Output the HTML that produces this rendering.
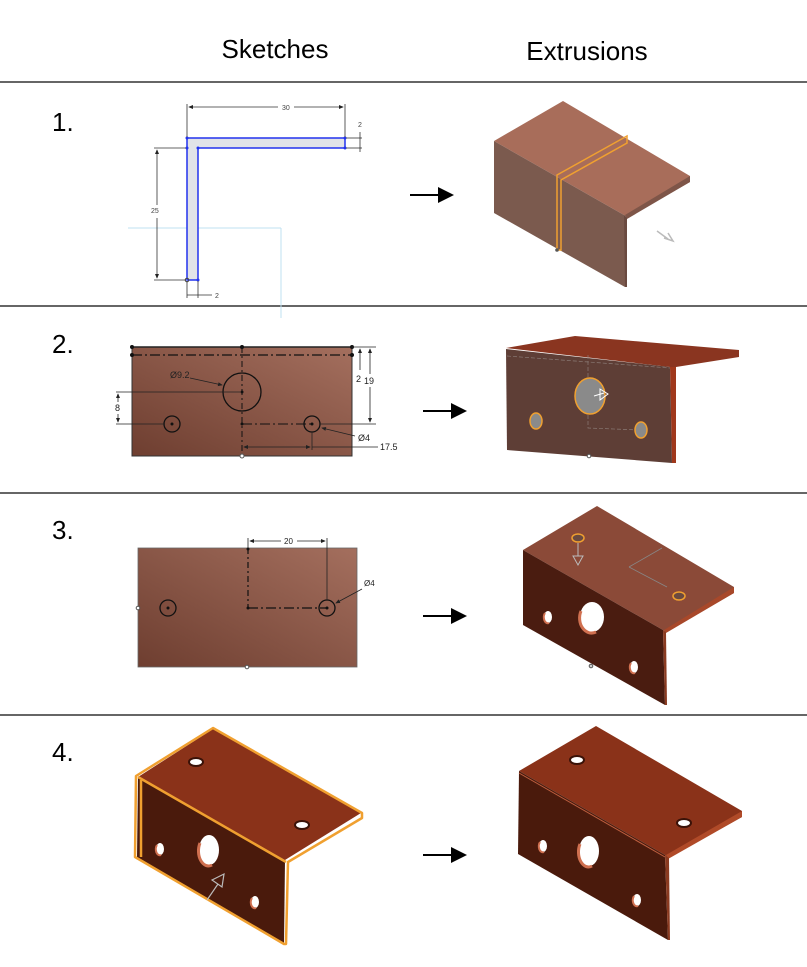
<!DOCTYPE html>
<html><head><meta charset="utf-8"><style>
html,body{margin:0;padding:0;background:#fff;}
svg{display:block;}
text{font-family:"Liberation Sans",Arial,sans-serif;}
</style></head><body>
<svg width="807" height="967" viewBox="0 0 807 967" xmlns="http://www.w3.org/2000/svg">
<defs>
<linearGradient id="g2" x1="0" y1="1" x2="1" y2="0"><stop offset="0" stop-color="#6e3e30"/><stop offset="1" stop-color="#a46f5e"/></linearGradient>
<marker id="ah" markerWidth="8" markerHeight="8" refX="7" refY="4" orient="auto"><path d="M0,0 L8,4 L0,8 z" fill="#000"/></marker>
<marker id="sa" markerWidth="6" markerHeight="6" refX="5" refY="3" orient="auto-start-reverse"><path d="M0,0.5 L6,3 L0,5.5 z" fill="#222"/></marker>
</defs>
<rect width="807" height="967" fill="#fff"/>
<!-- headers -->
<text x="275" y="58" font-size="26" text-anchor="middle">Sketches</text>
<text x="587" y="60" font-size="26" text-anchor="middle">Extrusions</text>
<g stroke="#666" stroke-width="2">
<line x1="0" y1="82" x2="807" y2="82"/>
<line x1="0" y1="306" x2="807" y2="306"/>
<line x1="0" y1="493" x2="807" y2="493"/>
<line x1="0" y1="715" x2="807" y2="715"/>
</g>
<g font-size="26">
<text x="52" y="131">1.</text>
<text x="52" y="353">2.</text>
<text x="52" y="539">3.</text>
<text x="52" y="761">4.</text>
</g>
<!-- arrows -->
<g stroke="#000" stroke-width="2" marker-end="url(#ah)">
<line x1="410" y1="195" x2="452" y2="195"/>
<line x1="423" y1="411" x2="465" y2="411"/>
<line x1="423" y1="616" x2="465" y2="616"/>
<line x1="423" y1="855" x2="465" y2="855"/>
</g>

<!-- ROW 1 sketch -->
<g>
<line x1="128" y1="228" x2="281" y2="228" stroke="#bfe0f0" stroke-width="1"/>
<line x1="281" y1="228" x2="281" y2="318" stroke="#bfe0f0" stroke-width="1"/>
<path d="M187,138 L345,138 L345,148 L198,148 L198,280 L187,280 Z" fill="#e1e3e8" stroke="#2233ee" stroke-width="1.5"/>
<g fill="#2233ee"><circle cx="187" cy="138" r="1.5"/><circle cx="345" cy="138" r="1.5"/><circle cx="345" cy="148" r="1.5"/><circle cx="198" cy="148" r="1.5"/><circle cx="187" cy="148" r="1.5"/><circle cx="198" cy="280" r="1.5"/></g>
<circle cx="187" cy="280" r="1.8" fill="none" stroke="#444" stroke-width="1"/>
<g stroke="#333" stroke-width="0.8" fill="none">
<line x1="187" y1="137" x2="187" y2="104"/><line x1="345" y1="137" x2="345" y2="104"/>
<line x1="189" y1="107" x2="278" y2="107" marker-start="url(#sa)"/><line x1="294" y1="107" x2="343" y2="107" marker-end="url(#sa)"/>
<line x1="346" y1="138" x2="362" y2="138"/><line x1="346" y1="148" x2="362" y2="148"/><line x1="360" y1="132" x2="360" y2="152"/>
<line x1="186" y1="148" x2="154" y2="148"/><line x1="186" y1="280" x2="154" y2="280"/>
<line x1="157" y1="150" x2="157" y2="205" marker-start="url(#sa)"/><line x1="157" y1="218" x2="157" y2="278" marker-end="url(#sa)"/>
<line x1="187" y1="281" x2="187" y2="298"/><line x1="198" y1="281" x2="198" y2="298"/><line x1="187" y1="295" x2="212" y2="295"/>
</g>
<g font-size="7" fill="#444"><text x="282" y="110">30</text><text x="358" y="127">2</text><text x="151" y="213">25</text><text x="215" y="298">2</text></g>
</g>

<!-- ROW 1 extrusion -->
<g>
<polygon points="494,141 563,101 690,176 690,182 627,218 624,215" fill="#a86d5a"/>
<polygon points="690,176 690,182 627,219 625,215" fill="#7e5548"/>
<polygon points="494,141 624,215 627,218 625,287 494,213" fill="#7b5a4e"/>
<polygon points="624,215 627,218 627,287 625,287" fill="#6a4a40"/>
<path d="M557,175 L627,136 L627,143 L561,180 L561,250 L557,250 Z" fill="none" stroke="#f0a030" stroke-width="1.5"/>
<circle cx="557" cy="250" r="1.8" fill="#555"/>
<path d="M657,231 L668,239 M664,238 L673,241 L668,233" stroke="#bbb" stroke-width="1.5" fill="none"/>
</g>

<!-- ROW 2 sketch -->
<g>
<rect x="132" y="347" width="220" height="109" fill="url(#g2)" stroke="#333" stroke-width="1"/>
<line x1="132" y1="347" x2="352" y2="347" stroke="#222" stroke-width="1.5"/>
<line x1="132" y1="355" x2="352" y2="355" stroke="#111" stroke-width="1.2" stroke-dasharray="10,3,2,3"/>
<line x1="242" y1="347" x2="242" y2="456" stroke="#111" stroke-width="1" stroke-dasharray="6,3,2,3"/>
<line x1="242" y1="424" x2="312" y2="424" stroke="#111" stroke-width="1" stroke-dasharray="10,3,2,3"/>
<g fill="none" stroke="#111" stroke-width="1.3"><circle cx="242" cy="392" r="19"/><circle cx="172" cy="424" r="8"/><circle cx="312" cy="424" r="8"/></g>
<g fill="#111"><circle cx="242" cy="392" r="1.5"/><circle cx="172" cy="424" r="1.5"/><circle cx="312" cy="424" r="1.5"/><circle cx="242" cy="424" r="1.5"/><circle cx="132" cy="347" r="2"/><circle cx="242" cy="347" r="2"/><circle cx="352" cy="347" r="2"/><circle cx="132" cy="355" r="2"/><circle cx="352" cy="355" r="2"/></g>
<circle cx="242" cy="456" r="2" fill="#fff" stroke="#555"/>
<g stroke="#222" stroke-width="0.8" fill="none">
<line x1="116" y1="392" x2="240" y2="392"/><line x1="116" y1="424" x2="165" y2="424"/>
<line x1="118" y1="394" x2="118" y2="402" marker-start="url(#sa)"/><line x1="118" y1="414" x2="118" y2="422" marker-end="url(#sa)"/>
<line x1="352" y1="347" x2="376" y2="347"/><line x1="320" y1="424" x2="376" y2="424"/>
<line x1="360" y1="349" x2="360" y2="370" marker-start="url(#sa)"/>
<line x1="370" y1="349" x2="370" y2="374" marker-start="url(#sa)"/><line x1="370" y1="387" x2="370" y2="422" marker-end="url(#sa)"/>
<line x1="312" y1="432" x2="312" y2="450"/>
<line x1="244" y1="447" x2="310" y2="447" marker-start="url(#sa)" marker-end="url(#sa)"/><line x1="312" y1="447" x2="378" y2="447"/>
<line x1="190" y1="378" x2="222" y2="385" marker-end="url(#sa)"/>
<line x1="355" y1="436" x2="322" y2="428" marker-end="url(#sa)"/>
</g>
<g font-size="9" fill="#222"><text x="170" y="378">Ø9.2</text><text x="115" y="411">8</text><text x="356" y="382">2</text><text x="364" y="384">19</text><text x="358" y="441">Ø4</text><text x="380" y="450">17.5</text></g>
</g>

<!-- ROW 2 extrusion -->
<g>
<polygon points="506,348 575,336 739,350 739,357 676,367 670,367" fill="#8a3520"/>
<polygon points="670,367 676,367 676,463 672,463" fill="#a0381c"/>
<polygon points="506,349 670,367 672,463 507,450" fill="#5e3e36"/>
<path d="M507,356 L670,368" stroke="#8a7a75" stroke-width="0.7" stroke-dasharray="4,2" fill="none"/>
<path d="M588,355 L588,428 L640,430" stroke="#8a7a75" stroke-width="0.7" stroke-dasharray="4,2" fill="none"/>
<ellipse cx="590" cy="396" rx="15" ry="18" fill="#8a8a8a" stroke="#f0a030" stroke-width="1.5"/>
<ellipse cx="536" cy="421" rx="6" ry="8" fill="#8a8a8a" stroke="#f0a030" stroke-width="1.5"/>
<ellipse cx="641" cy="430" rx="6" ry="8" fill="#8a8a8a" stroke="#f0a030" stroke-width="1.5"/>
<path d="M594,396 L604,393 M600,389 L608,394 L600,400 Z" stroke="#fff" stroke-width="1" fill="none"/>
<circle cx="589" cy="456" r="1.8" fill="#fff" stroke="#555"/>
</g>

<!-- ROW 3 sketch -->
<g>
<rect x="138" y="548" width="219" height="119" fill="url(#g2)" stroke="#666" stroke-width="0.8"/>
<line x1="248" y1="548" x2="248" y2="608" stroke="#111" stroke-width="1.2" stroke-dasharray="6,3,2,3"/>
<line x1="248" y1="608" x2="327" y2="608" stroke="#111" stroke-width="1.2" stroke-dasharray="10,3,2,3"/>
<g fill="none" stroke="#111" stroke-width="1.3"><circle cx="168" cy="608" r="8"/><circle cx="327" cy="608" r="8"/></g>
<g fill="#111"><circle cx="168" cy="608" r="1.5"/><circle cx="327" cy="608" r="1.5"/><circle cx="248" cy="608" r="1.5"/><circle cx="248" cy="549" r="1.5"/></g>
<circle cx="138" cy="608" r="1.8" fill="#fff" stroke="#555"/><circle cx="247" cy="667" r="1.8" fill="#fff" stroke="#555"/>
<g stroke="#222" stroke-width="0.8" fill="none">
<line x1="248" y1="548" x2="248" y2="538"/><line x1="327" y1="538" x2="327" y2="600"/>
<line x1="250" y1="541" x2="281" y2="541" marker-start="url(#sa)"/><line x1="297" y1="541" x2="325" y2="541" marker-end="url(#sa)"/>
<line x1="362" y1="589" x2="336" y2="603" marker-end="url(#sa)"/>
</g>
<g font-size="8" fill="#222"><text x="284" y="544">20</text><text x="364" y="586">Ø4</text></g>
</g>

<!-- ROW 3 extrusion -->
<g>
<polygon points="523,550 597,506 734,587 734,593 666,632 663,630" fill="#8b4a38"/>
<polygon points="734,587 734,593 666,633 664,630" fill="#a8482a"/>
<polygon points="523,550 663,630 665,705 523,625" fill="#4a1c10"/>
<polygon points="663,630 666,632 667,705 665,705" fill="#8a3a20"/>
<ellipse cx="592" cy="617" rx="12" ry="15" fill="#fff"/><path d="M581,611 A12,15 0 0 0 596,632" stroke="#d07050" stroke-width="3" fill="none"/>
<ellipse cx="548" cy="617" rx="4" ry="6" fill="#fff"/><path d="M545,613 A4,6 0 0 0 549,623" stroke="#d07050" stroke-width="2" fill="none"/>
<ellipse cx="634" cy="667" rx="4" ry="6" fill="#fff"/><path d="M631,663 A4,6 0 0 0 635,673" stroke="#d07050" stroke-width="2" fill="none"/>
<ellipse cx="578" cy="538" rx="6" ry="4" fill="#6a4a40" stroke="#f0a030" stroke-width="1.5"/>
<ellipse cx="679" cy="596" rx="6" ry="4" fill="#6a4a40" stroke="#f0a030" stroke-width="1.5"/>
<path d="M578,543 L578,556 M573,556 L583,556 L578,565 Z" stroke="#bbb" stroke-width="1" fill="none"/>
<path d="M629,567 L662,548 M629,567 L667,587" stroke="#888" stroke-width="0.8" fill="none"/>
<circle cx="591" cy="666" r="1.8" fill="#ccc" stroke="#555"/>
</g>

<!-- ROW 4 sketch -->
<g>
<polygon points="138,777 213,729 361,813 285,860" fill="#8a3219"/>
<polygon points="138,777 285,860 284,944 137,857" fill="#4a1a0c"/>
<g fill="none" stroke="#f0a030" stroke-width="2.5" stroke-linejoin="round">
<polygon points="136,776 213,728 362,813 362,818 288,862 286,944 284,944 135,857"/>
<line x1="138" y1="777" x2="286" y2="862"/>
<line x1="141" y1="780" x2="141" y2="857"/>
</g>
<ellipse cx="209" cy="850" rx="10" ry="15" fill="#fff"/><path d="M200,843 A10,15 0 0 0 212,865" stroke="#d07050" stroke-width="3" fill="none"/>
<ellipse cx="160" cy="849" rx="4" ry="6" fill="#fff"/><path d="M157,845 A4,6 0 0 0 161,855" stroke="#d07050" stroke-width="2" fill="none"/>
<ellipse cx="255" cy="902" rx="4" ry="6" fill="#fff"/><path d="M252,898 A4,6 0 0 0 256,908" stroke="#d07050" stroke-width="2" fill="none"/>
<ellipse cx="196" cy="762" rx="7" ry="4" fill="#fff" stroke="#3a1208" stroke-width="2"/>
<ellipse cx="302" cy="825" rx="7" ry="4" fill="#fff" stroke="#3a1208" stroke-width="2"/>
<path d="M207,900 L218,884 M212,880 L224,874 L222,887 Z" stroke="#bbb" stroke-width="1.2" fill="none"/>
</g>

<!-- ROW 4 extrusion -->
<g>
<polygon points="519,771 596,726 742,811 742,817 668,858 665,855" fill="#8a3219"/>
<polygon points="742,811 742,817 668,859 666,855" fill="#b04a28"/>
<polygon points="519,771 665,855 668,940 518,854" fill="#4a1a0c"/>
<polygon points="665,855 669,858 670,940 668,940" fill="#8a3a20"/>
<line x1="519" y1="773" x2="665" y2="857" stroke="#c06040" stroke-width="1"/>
<ellipse cx="589" cy="851" rx="10" ry="15" fill="#fff"/><path d="M580,844 A10,15 0 0 0 592,866" stroke="#d07050" stroke-width="3" fill="none"/>
<ellipse cx="543" cy="846" rx="4" ry="6" fill="#fff"/><path d="M540,842 A4,6 0 0 0 544,852" stroke="#d07050" stroke-width="2" fill="none"/>
<ellipse cx="637" cy="900" rx="4" ry="6" fill="#fff"/><path d="M634,896 A4,6 0 0 0 638,906" stroke="#d07050" stroke-width="2" fill="none"/>
<ellipse cx="577" cy="760" rx="7" ry="4" fill="#fff" stroke="#3a1208" stroke-width="2"/>
<ellipse cx="684" cy="823" rx="7" ry="4" fill="#fff" stroke="#3a1208" stroke-width="2"/>
</g>
</svg>
</body></html>
